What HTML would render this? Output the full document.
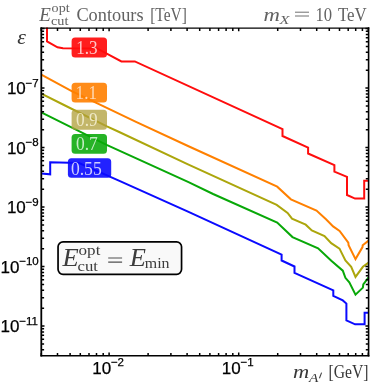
<!DOCTYPE html>
<html><head><meta charset="utf-8"><style>
html,body{margin:0;padding:0;background:#fff;}
body{width:374px;height:386px;overflow:hidden;}
svg{display:block;will-change:transform;}
text{font-family:"Liberation Serif",serif;}
.tk{font-family:"Liberation Sans",sans-serif;font-size:17px;fill:#000;stroke:#000;stroke-width:0.25px;}
.sp{font-size:11.5px;}
.it{font-style:italic;}
</style></head><body>
<svg width="374" height="386" viewBox="0 0 374 386">
<rect width="374" height="386" fill="#fff"/>
<g fill="none" stroke-width="2" stroke-linejoin="miter">
<path d="M47.0 27.5 L47.0 41.5 L57.5 47.3 L63.0 48.3 L97.0 48.4 L121.4 61.4 L134.8 61.4 L282.5 129.2 L282.5 136.0 L308.1 147.6 L308.1 153.5 L334.4 165.2 L334.4 171.7 L347.0 176.8 L347.0 195.0 L355.1 198.6 L364.2 198.6 L364.2 180.7 L368.6 180.7" stroke="#ff0d0d"/>
<path d="M41.3 74.6 L71.7 91.1 L100.0 104.6 L136.0 121.9 L188.0 146.0 L277.2 186.7 L290.9 199.3 L316.5 210.5 L326.0 219.3 L333.1 226.4 L339.6 230.9 L348.3 242.6 L348.6 245.2 L355.5 259.1 L362.5 247.1 L362.7 245.2 L368.6 240.6" stroke="#ff8000"/>
<path d="M41.3 93.7 L64.0 105.0 L106.9 126.3 L119.2 132.0 L188.0 164.4 L276.7 204.9 L287.6 213.0 L292.0 218.6 L305.7 224.7 L311.8 230.5 L324.5 236.0 L331.2 243.2 L339.5 248.6 L345.4 260.4 L351.2 266.8 L355.5 276.9 L362.9 266.8 L368.6 262.6" stroke="#aca60c"/>
<path d="M41.3 112.3 L106.6 144.8 L188.0 181.9 L213.1 194.0 L277.2 222.6 L292.5 237.1 L318.1 248.3 L331.3 260.8 L342.8 270.7 L345.4 277.8 L349.3 282.4 L355.5 294.7 L362.9 287.6 L363.3 284.3 L368.6 277.4" stroke="#08a808"/>
<path d="M41.3 173.6 L50.2 174.3 L50.2 162.2 L79.0 163.0 L120.0 181.1 L188.0 211.6 L281.6 254.6 L281.6 260.5 L294.5 266.5 L294.5 272.9 L333.3 290.4 L333.3 295.8 L342.8 300.4 L346.4 303.6 L346.4 320.4 L355.1 324.3 L364.6 324.3 L364.6 312.7 L368.6 312.7" stroke="#0a0aff"/>
</g>
<!-- frame -->
<path d="M41.3 349.8 h2.8 M368.6 349.8 h-2.8 M41.3 344.0 h2.8 M368.6 344.0 h-2.8 M41.3 339.3 h2.8 M368.6 339.3 h-2.8 M41.3 335.3 h2.8 M368.6 335.3 h-2.8 M41.3 331.9 h2.8 M368.6 331.9 h-2.8 M41.3 328.8 h2.8 M368.6 328.8 h-2.8 M41.3 326.1 h3.2 M368.6 326.1 h-3.2 M41.3 308.2 h2.8 M368.6 308.2 h-2.8 M41.3 297.7 h2.8 M368.6 297.7 h-2.8 M41.3 290.3 h2.8 M368.6 290.3 h-2.8 M41.3 284.5 h2.8 M368.6 284.5 h-2.8 M41.3 279.8 h2.8 M368.6 279.8 h-2.8 M41.3 275.8 h2.8 M368.6 275.8 h-2.8 M41.3 272.4 h2.8 M368.6 272.4 h-2.8 M41.3 269.3 h2.8 M368.6 269.3 h-2.8 M41.3 266.6 h3.2 M368.6 266.6 h-3.2 M41.3 248.7 h2.8 M368.6 248.7 h-2.8 M41.3 238.2 h2.8 M368.6 238.2 h-2.8 M41.3 230.8 h2.8 M368.6 230.8 h-2.8 M41.3 225.0 h2.8 M368.6 225.0 h-2.8 M41.3 220.3 h2.8 M368.6 220.3 h-2.8 M41.3 216.3 h2.8 M368.6 216.3 h-2.8 M41.3 212.9 h2.8 M368.6 212.9 h-2.8 M41.3 209.8 h2.8 M368.6 209.8 h-2.8 M41.3 207.1 h3.2 M368.6 207.1 h-3.2 M41.3 189.2 h2.8 M368.6 189.2 h-2.8 M41.3 178.7 h2.8 M368.6 178.7 h-2.8 M41.3 171.3 h2.8 M368.6 171.3 h-2.8 M41.3 165.5 h2.8 M368.6 165.5 h-2.8 M41.3 160.8 h2.8 M368.6 160.8 h-2.8 M41.3 156.8 h2.8 M368.6 156.8 h-2.8 M41.3 153.4 h2.8 M368.6 153.4 h-2.8 M41.3 150.3 h2.8 M368.6 150.3 h-2.8 M41.3 147.6 h3.2 M368.6 147.6 h-3.2 M41.3 129.7 h2.8 M368.6 129.7 h-2.8 M41.3 119.2 h2.8 M368.6 119.2 h-2.8 M41.3 111.8 h2.8 M368.6 111.8 h-2.8 M41.3 106.0 h2.8 M368.6 106.0 h-2.8 M41.3 101.3 h2.8 M368.6 101.3 h-2.8 M41.3 97.3 h2.8 M368.6 97.3 h-2.8 M41.3 93.9 h2.8 M368.6 93.9 h-2.8 M41.3 90.8 h2.8 M368.6 90.8 h-2.8 M41.3 88.1 h3.2 M368.6 88.1 h-3.2 M41.3 70.2 h2.8 M368.6 70.2 h-2.8 M41.3 59.7 h2.8 M368.6 59.7 h-2.8 M41.3 52.3 h2.8 M368.6 52.3 h-2.8 M41.3 46.5 h2.8 M368.6 46.5 h-2.8 M41.3 41.8 h2.8 M368.6 41.8 h-2.8 M41.3 37.8 h2.8 M368.6 37.8 h-2.8 M41.3 34.4 h2.8 M368.6 34.4 h-2.8 M41.3 31.3 h2.8 M368.6 31.3 h-2.8 M41.3 28.6 h3.2 M368.6 28.6 h-3.2 M41.3 355.7 v-2.8 M41.3 28.1 v2.8 M57.5 355.7 v-2.8 M57.5 28.1 v2.8 M70.1 355.7 v-2.8 M70.1 28.1 v2.8 M80.3 355.7 v-2.8 M80.3 28.1 v2.8 M89.0 355.7 v-2.8 M89.0 28.1 v2.8 M96.5 355.7 v-2.8 M96.5 28.1 v2.8 M103.2 355.7 v-2.8 M103.2 28.1 v2.8 M109.1 355.7 v-3.2 M109.1 28.1 v3.2 M148.1 355.7 v-2.8 M148.1 28.1 v2.8 M170.9 355.7 v-2.8 M170.9 28.1 v2.8 M187.1 355.7 v-2.8 M187.1 28.1 v2.8 M199.7 355.7 v-2.8 M199.7 28.1 v2.8 M209.9 355.7 v-2.8 M209.9 28.1 v2.8 M218.6 355.7 v-2.8 M218.6 28.1 v2.8 M226.1 355.7 v-2.8 M226.1 28.1 v2.8 M232.8 355.7 v-2.8 M232.8 28.1 v2.8 M238.7 355.7 v-3.2 M238.7 28.1 v3.2 M277.7 355.7 v-2.8 M277.7 28.1 v2.8 M300.5 355.7 v-2.8 M300.5 28.1 v2.8 M316.7 355.7 v-2.8 M316.7 28.1 v2.8 M329.3 355.7 v-2.8 M329.3 28.1 v2.8 M339.5 355.7 v-2.8 M339.5 28.1 v2.8 M348.2 355.7 v-2.8 M348.2 28.1 v2.8 M355.7 355.7 v-2.8 M355.7 28.1 v2.8 M362.4 355.7 v-2.8 M362.4 28.1 v2.8 M368.3 355.7 v-3.2 M368.3 28.1 v3.2" stroke="#000" stroke-width="1.5" fill="none"/>
<g fill="none" stroke="#000" stroke-linecap="square">
<path d="M41.3 28.1 V355.7" stroke-width="1.8"/>
<path d="M41.3 355.7 H368.6" stroke-width="1.6"/>
<path d="M368.6 28.1 V355.7" stroke-width="1.6"/>
<path d="M41.3 28.1 H368.6" stroke-width="1.3"/>
</g>
<text x="25.8" y="94.4" text-anchor="end" class="tk">10</text><text x="25.6" y="86.5" class="tk sp">−7</text>
<text x="25.8" y="153.9" text-anchor="end" class="tk">10</text><text x="25.6" y="146.0" class="tk sp">−8</text>
<text x="25.8" y="213.4" text-anchor="end" class="tk">10</text><text x="25.6" y="205.5" class="tk sp">−9</text>
<text x="19.4" y="272.9" text-anchor="end" class="tk">10</text><text x="19.2" y="265.0" class="tk sp">−10</text>
<text x="19.4" y="332.4" text-anchor="end" class="tk">10</text><text x="19.2" y="324.5" class="tk sp">−11</text>

<text x="111.1" y="373.8" text-anchor="end" class="tk">10</text><text x="110.9" y="365.9" class="tk sp">−2</text>
<text x="240.7" y="373.8" text-anchor="end" class="tk">10</text><text x="240.5" y="365.9" class="tk sp">−1</text>

<!-- contour labels -->
<g font-size="18.5px">
<rect x="71.6" y="37.4" width="35.4" height="20.1" rx="3.5" fill="#ff0d0d" fill-opacity="0.93"/>
<text x="76.2" y="54.2" fill="#ffc8c8" textLength="21.4" lengthAdjust="spacingAndGlyphs">1.3</text>
<rect x="71.6" y="82.7" width="35.4" height="19.9" rx="3.5" fill="#ff8000" fill-opacity="0.9"/>
<text x="75.6" y="98.8" fill="#ffd9b5" textLength="21.4" lengthAdjust="spacingAndGlyphs">1.1</text>
<rect x="71.6" y="109.8" width="35.4" height="19.9" rx="3.5" fill="#b09f3a" fill-opacity="0.76"/>
<text x="76.0" y="126.3" fill="#efe9c6" textLength="21.6" lengthAdjust="spacingAndGlyphs">0.9</text>
<rect x="71.6" y="133.9" width="35.4" height="19.9" rx="3.5" fill="#08a808" fill-opacity="0.88"/>
<text x="76.0" y="150.3" fill="#c4ecc4" textLength="21.8" lengthAdjust="spacingAndGlyphs">0.7</text>
<rect x="67.9" y="158.2" width="43.3" height="19.6" rx="3.5" fill="#0a0aff" fill-opacity="0.9"/>
<text x="70.9" y="174.7" fill="#cdcdff" textLength="30.8" lengthAdjust="spacingAndGlyphs">0.55</text>
</g>
<!-- Ecut box -->
<rect x="58.05" y="241.85" width="123.5" height="32.5" rx="5" fill="#f9f9f9" stroke="#000" stroke-width="1.7"/>
<g fill="#3c3c3c">
<text x="62.6" y="265.9" font-size="24.2px" textLength="16.2" lengthAdjust="spacingAndGlyphs" class="it">E</text>
<text x="78.6" y="254.7" font-size="15.5px" textLength="21.8" lengthAdjust="spacingAndGlyphs">opt</text>
<text x="77.6" y="270.8" font-size="15.5px" textLength="20.4" lengthAdjust="spacingAndGlyphs">cut</text>
<text x="129.8" y="265.9" font-size="24.2px" textLength="16.2" lengthAdjust="spacingAndGlyphs" class="it">E</text>
<text x="144.8" y="268.2" font-size="15.5px" textLength="24.8" lengthAdjust="spacingAndGlyphs">min</text>
</g>
<path d="M108.2 258H122.1M108.2 262.1H122.1" stroke="#505050" stroke-width="1.15" fill="none"/>
<!-- title -->
<g fill="#626262">
<text x="39.2" y="21.2" font-size="19.0px" class="it">E</text>
<text x="51.6" y="12.0" font-size="12.8px" textLength="18.0" lengthAdjust="spacingAndGlyphs">opt</text>
<text x="51.0" y="25.4" font-size="12.8px" textLength="17.4" lengthAdjust="spacingAndGlyphs">cut</text>
<text x="76.4" y="21.2" font-size="18.6px" textLength="67.2" lengthAdjust="spacingAndGlyphs">Contours</text>
<text x="150.2" y="21.2" font-size="18.6px" textLength="36.6" lengthAdjust="spacingAndGlyphs">[TeV]</text>
<text x="263.6" y="21.2" font-size="18.6px" textLength="16.4" lengthAdjust="spacingAndGlyphs" class="it">m</text>
<text x="279.6" y="24.4" font-size="12.8px" textLength="10.0" lengthAdjust="spacingAndGlyphs" class="it">X</text>
<text x="315.4" y="21.2" font-size="18.6px" textLength="16.6" lengthAdjust="spacingAndGlyphs">10</text>
<text x="338.0" y="21.2" font-size="18.6px" textLength="28.8" lengthAdjust="spacingAndGlyphs">TeV</text>
</g>
<path d="M295 12.2H309M295 16H309" stroke="#707070" stroke-width="1.0" fill="none"/>
<path d="M321.6 372.6L319.4 378.2" stroke="#444" stroke-width="1.1" fill="none"/>
<g fill="#383838">
<text x="17.2" y="44.2" font-size="22.0px" class="it">ε</text>
<text x="293.0" y="377.6" font-size="18.6px" textLength="16.2" lengthAdjust="spacingAndGlyphs" class="it">m</text>
<text x="309.0" y="381.6" font-size="12.8px" textLength="9.4" lengthAdjust="spacingAndGlyphs" class="it">A</text>
<text x="328.6" y="377.6" font-size="18.6px" textLength="40.0" lengthAdjust="spacingAndGlyphs">[GeV]</text>
</g>
</svg>
</body></html>
